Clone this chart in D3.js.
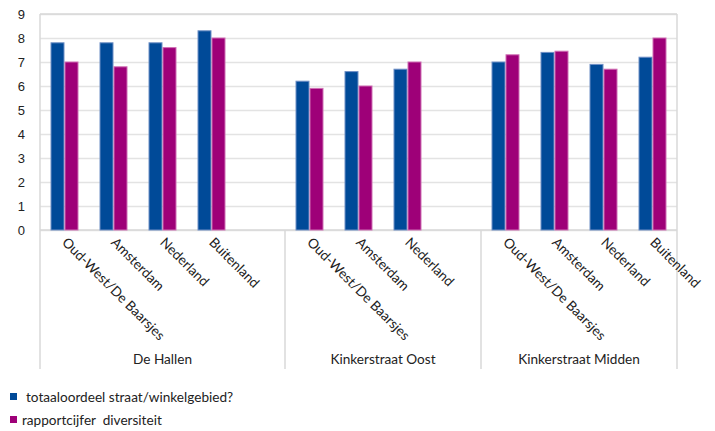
<!DOCTYPE html>
<html>
<head>
<meta charset="utf-8">
<script src="https://cdn.jsdelivr.net/npm/d3@7"></script>
<style>
  body { margin: 0; background: #fff; }
  svg { display: block; font-family: Lato, "Open Sans", sans-serif; }
</style>
</head>
<body>
<div id="chart"></div>
<script>
const groups = ["De Hallen", "Kinkerstraat Oost", "Kinkerstraat Midden"];
const groupCategories = [
  ["Oud-West/De Baarsjes", "Amsterdam", "Nederland", "Buitenland", ""],
  ["Oud-West/De Baarsjes", "Amsterdam", "Nederland", ""],
  ["Oud-West/De Baarsjes", "Amsterdam", "Nederland", "Buitenland"],
];
const seriesNames = ["totaaloordeel straat/winkelgebied?", "rapportcijfer  diversiteit"];
const totaalValues = [7.8, 7.8, 7.8, 8.3, null, 6.2, 6.6, 6.7, null, 7.0, 7.4, 6.9, 7.2];
const diversiteitValues = [7.0, 6.8, 7.6, 8.0, null, 5.9, 6.0, 7.0, null, 7.3, 7.45, 6.7, 8.0];
const yTicks = [0, 1, 2, 3, 4, 5, 6, 7, 8, 9];

const colors = ["#004a98", "#9e0078"];
const strokes = ["#6f8fc6", "#cf6fb4"];

const width = 715, height = 431;
const margin = { top: 14, right: 38, bottom: 201, left: 40 };
const plotW = width - margin.left - margin.right;
const plotH = height - margin.top - margin.bottom;
const fontSize = 13.6;

// flatten slots
const slots = [];
groupCategories.forEach((cats, gi) => {
  cats.forEach((c, ci) => slots.push({ key: gi + "|" + ci, group: gi, label: c }));
});
slots.forEach((s, i) => {
  s.values = [totaalValues[i], diversiteitValues[i]];
});

const svg = d3.select("#chart").append("svg")
  .attr("width", width)
  .attr("height", height);

const chart = svg.append("g")
  .attr("transform", `translate(${margin.left},${margin.top})`);

const x = d3.scaleBand(slots.map(d => d.key), [0, plotW]);
const xInner = d3.scaleBand([0, 1], [0, x.bandwidth()]).paddingOuter(0.75);
const y = d3.scaleLinear([0, 9], [plotH, 0]);

// gridlines
chart.append("g")
  .attr("class", "grid")
  .call(d3.axisLeft(y).tickValues(yTicks).tickSize(-plotW).tickFormat(""))
  .call(g => g.select(".domain").remove())
  .call(g => g.selectAll("line").attr("stroke", "#e3e3e3").attr("stroke-width", 1.5));

// y labels
chart.append("g")
  .attr("class", "y-axis")
  .call(d3.axisLeft(y).tickValues(yTicks).tickSize(0).tickPadding(15))
  .call(g => g.select(".domain").remove())
  .call(g => g.selectAll("text").attr("font-size", 13).attr("fill", "#222"));

// frame + group separators extending into label area
const groupBounds = groups.map((g, gi) => {
  const keys = slots.filter(s => s.group === gi).map(s => s.key);
  return [x(keys[0]), x(keys[keys.length - 1]) + x.bandwidth()];
});
const frameColor = "#d9d9d9";
chart.append("line")
  .attr("x1", 0).attr("x2", plotW).attr("y1", 0).attr("y2", 0)
  .attr("stroke", frameColor).attr("stroke-width", 1.5);
chart.append("line")
  .attr("x1", 0).attr("x2", plotW).attr("y1", plotH).attr("y2", plotH)
  .attr("stroke", frameColor).attr("stroke-width", 1.5);
const sepX = [0].concat(groupBounds.map(b => b[1]));
chart.selectAll(".sep")
  .data(sepX)
  .join("line")
  .attr("class", "sep")
  .attr("x1", d => d).attr("x2", d => d)
  .attr("y1", (d, i) => (i === 0 || i === sepX.length - 1) ? 0 : plotH)
  .attr("y2", plotH + 139)
  .attr("stroke", frameColor).attr("stroke-width", 1.5);

// bars
const slotG = chart.selectAll(".slot")
  .data(slots)
  .join("g")
  .attr("class", "slot")
  .attr("transform", d => `translate(${x(d.key)},0)`);

slotG.selectAll("rect")
  .data(d => d.values.map((v, i) => ({ v, i })).filter(e => e.v != null))
  .join("rect")
  .attr("x", d => xInner(d.i) + 0.5)
  .attr("width", xInner.bandwidth() - 1)
  .attr("y", d => y(d.v))
  .attr("height", d => y(0) - y(d.v))
  .attr("fill", d => colors[d.i])
  .attr("stroke", d => strokes[d.i])
  .attr("stroke-width", 1);

// category labels
chart.selectAll(".cat-label")
  .data(slots.filter(s => s.label))
  .join("text")
  .attr("class", "cat-label")
  .attr("transform", d => `translate(${x(d.key) + x.bandwidth() / 2 + 4},${plotH + 6}) rotate(45)`)
  .attr("dy", "0.75em")
  .attr("font-size", fontSize)
  .attr("fill", "#222")
  .text(d => d.label);

// group labels
chart.selectAll(".group-label")
  .data(groups)
  .join("text")
  .attr("class", "group-label")
  .attr("x", (d, i) => (groupBounds[i][0] + groupBounds[i][1]) / 2)
  .attr("y", plotH + 134)
  .attr("text-anchor", "middle")
  .attr("font-size", fontSize)
  .attr("fill", "#222")
  .text(d => d);

// legend
const legend = svg.append("g").attr("class", "legend");
const legendItems = [
  { name: seriesNames[0], x: 10, y: 393, tx: 26 },
  { name: seriesNames[1], x: 10, y: 416, tx: 22 },
];
legend.selectAll("rect")
  .data(legendItems)
  .join("rect")
  .attr("x", d => d.x).attr("y", d => d.y)
  .attr("width", 7).attr("height", 7)
  .attr("fill", (d, i) => colors[i]);
legend.selectAll("text")
  .data(legendItems)
  .join("text")
  .attr("x", d => d.tx).attr("y", d => d.y + 9)
  .attr("font-size", fontSize)
  .attr("fill", "#222")
  .style("white-space", "pre")
  .text(d => d.name);
</script>
</body>
</html>
